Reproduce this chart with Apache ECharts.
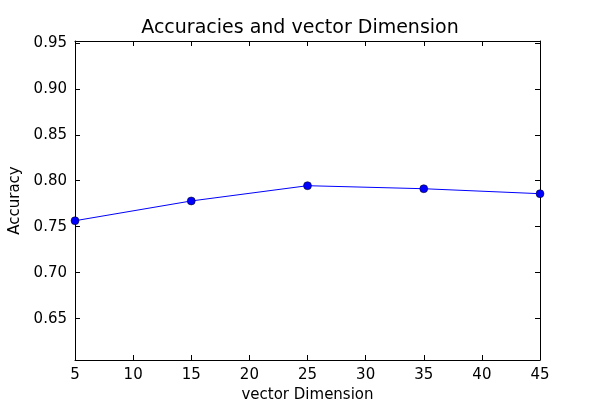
<!DOCTYPE html>
<html>
<head>
<meta charset="utf-8">
<script src="https://cdn.jsdelivr.net/npm/echarts@6/dist/echarts.min.js"></script>
<style>html,body{margin:0;background:#fff}#chart{width:600px;height:400px}</style>
</head>
<body>
<div id="chart"></div>
<script>
const dims = [5, 15, 25, 35, 45];
const accuracies = [0.7565, 0.778, 0.7946, 0.7913, 0.7859];
const yTicks = [0.65, 0.70, 0.75, 0.80, 0.85, 0.90, 0.95];

const chart = echarts.init(document.getElementById('chart'));
const font = 'DejaVu Sans';
const line = { lineStyle: { color: '#000', width: 1 } };
const tick = { inside: true, length: 5, lineStyle: { color: '#000' } };

chart.setOption({
    animation: false,
    title: {
        text: 'Accuracies and vector Dimension', left: 'center', top: 14,
        textStyle: { fontFamily: font, fontSize: 19, fontWeight: 'normal', color: '#000' }
    },
    grid: { left: 75, right: 60, top: 41, bottom: 40, outerBoundsMode: 'none' },
    xAxis: [{
        type: 'value', min: 5, max: 45, interval: 5,
        name: 'vector Dimension', nameLocation: 'middle', nameGap: 27,
        nameTextStyle: { fontFamily: font, fontSize: 15, color: '#000' },
        axisLine: line, axisTick: tick, splitLine: { show: false },
        axisLabel: { fontFamily: font, fontSize: 15, color: '#000', margin: 8 }
    }, {
        type: 'value', position: 'top', min: 5, max: 45, interval: 5,
        axisLine: line, axisTick: tick, splitLine: { show: false }, axisLabel: { show: false }
    }],
    yAxis: [{
        type: 'value', min: 0.605, max: 0.952,
        name: 'Accuracy', nameLocation: 'middle', nameGap: 47,
        nameTextStyle: { fontFamily: font, fontSize: 15, color: '#000' },
        axisLine: line, splitLine: { show: false },
        axisTick: Object.assign({ customValues: yTicks }, tick),
        axisLabel: {
            customValues: yTicks, fontFamily: font, fontSize: 15, color: '#000', margin: 8,
            formatter: v => v.toFixed(2)
        }
    }, {
        type: 'value', position: 'right', min: 0.605, max: 0.952,
        axisLine: line, splitLine: { show: false },
        axisTick: Object.assign({ customValues: yTicks }, tick),
        axisLabel: { show: false }
    }],
    series: [{
        type: 'line',
        data: dims.map((d, i) => [d, accuracies[i]]),
        symbol: 'circle', symbolSize: 8,
        itemStyle: { color: '#0000ff', borderColor: '#000', borderWidth: 0.5 },
        lineStyle: { color: '#0000ff', width: 1 }
    }]
});
</script>
</body>
</html>
